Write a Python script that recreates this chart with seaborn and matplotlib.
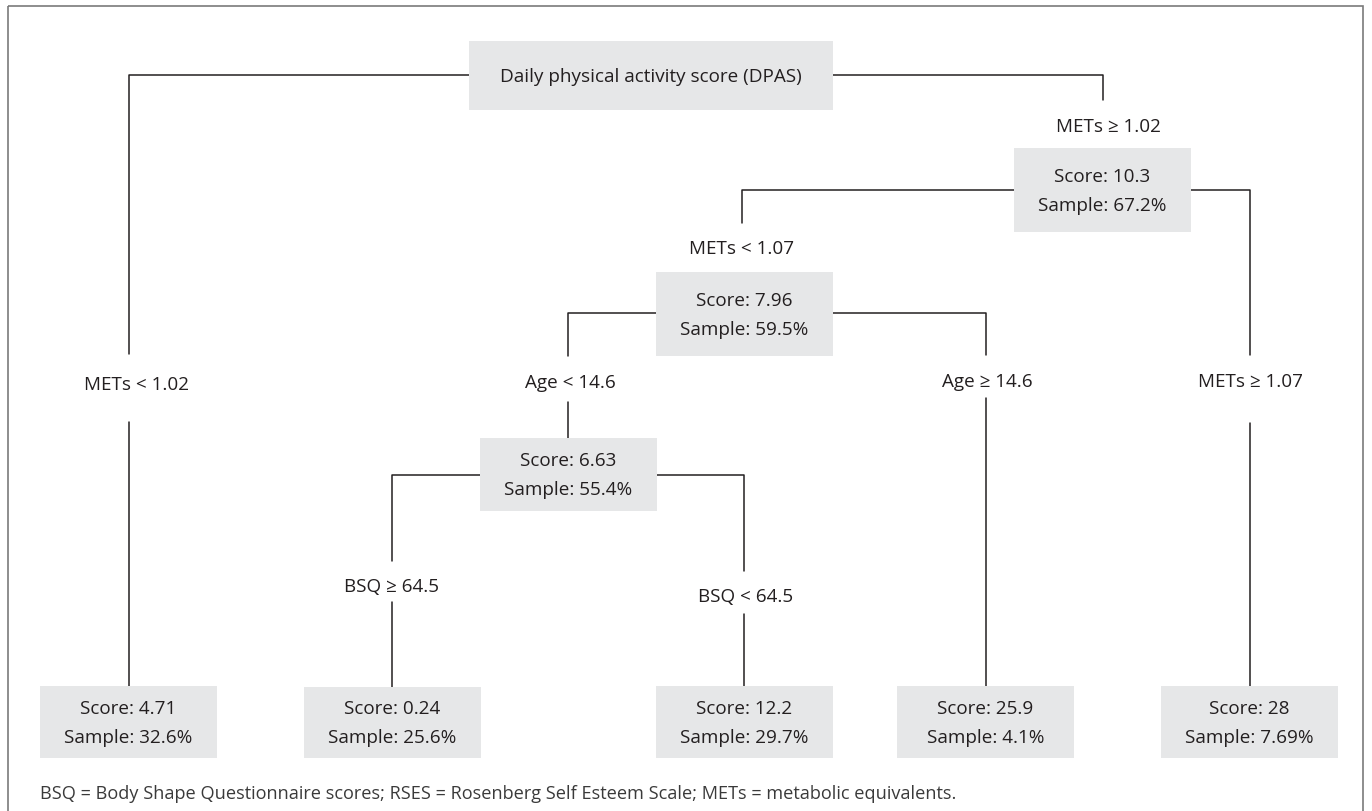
import matplotlib
matplotlib.use("Agg")
import matplotlib.pyplot as plt
from matplotlib.patches import Rectangle
import seaborn as sns
import pandas as pd

# ---------------- data ----------------
node_ids = ["root", "n1", "n2", "n3", "l1", "l2", "l3", "l4", "l5"]
node_scores = [None, "10.3", "7.96", "6.63", "4.71", "0.24", "12.2", "25.9", "28"]
node_samples = [None, "67.2%", "59.5%", "55.4%", "32.6%", "25.6%", "29.7%", "4.1%", "7.69%"]
root_title = "Daily physical activity score (DPAS)"

edge_parent = ["root", "root", "n1", "n1", "n2", "n2", "n3", "n3"]
edge_child = ["l1", "n1", "n2", "l5", "n3", "l4", "l2", "l3"]
edge_labels = ["METs < 1.02", "METs \u2265 1.02", "METs < 1.07", "METs \u2265 1.07",
               "Age < 14.6", "Age \u2265 14.6", "BSQ \u2265 64.5", "BSQ < 64.5"]

footnote = ("BSQ = Body Shape Questionnaire scores; RSES = Rosenberg Self Esteem Scale; "
            "METs = metabolic equivalents.")

# ---------------- layout (pixel space) ----------------
W, H = 1372, 812
box_geom = {  # x0, x1, y0, y1
    "root": (469, 833, 42, 111),
    "n1": (1014, 1191, 149, 233),
    "n2": (656, 833, 273, 357),
    "n3": (480, 657, 439, 512),
    "l1": (40, 217, 687, 759),
    "l2": (304, 481, 688, 759),
    "l3": (656, 833, 687, 759),
    "l4": (897, 1074, 687, 759),
    "l5": (1161, 1338, 687, 759),
}
hline_y = {"root": 76, "n1": 191, "n2": 314, "n3": 476}
# branch x, line end above label, label x, label y, line restart below label (None = no line)
edge_layout = {
    "l1": (129, 355, 137, 385, 423),
    "n1": (1103, 101, 1108, 127, None),
    "n2": (742, 224, 742, 249, None),
    "l5": (1250, 356, 1250, 382, 424),
    "n3": (568, 357, 570, 383, 403),
    "l4": (986, 356, 987, 382, 399),
    "l2": (392, 562, 392, 587, 603),
    "l3": (744, 572, 746, 597, 615),
}

# ---------------- style ----------------
sns.set_theme(style="white")
plt.rcParams["font.family"] = ["Open Sans", "DejaVu Sans"]
INK = "#231F20"
BOX = "#E6E7E8"
FS = 13.6
LW = 1.1

fig = plt.figure(figsize=(W / 100, H / 100), dpi=100)
ax = fig.add_axes([0, 0, 1, 1])
ax.set_xlim(0, W)
ax.set_ylim(H, 0)
ax.axis("off")

# outer frame
ax.add_patch(Rectangle((8, 7), 1355, 815, fill=False, edgecolor="#7a7a7a", lw=1.2,
                       clip_on=True))

# connector segments
segs = []
sid = 0
for p, c in zip(edge_parent, edge_child):
    bx, yend, lx, ly, yrest = edge_layout[c]
    px0, px1, py0, py1 = box_geom[p]
    hy = hline_y[p]
    edge_x = px0 if bx < px0 else px1
    segs += [(sid, edge_x, hy), (sid, bx, hy), (sid, bx, yend)]
    sid += 1
    if yrest is not None:
        segs += [(sid, bx, yrest), (sid, bx, box_geom[c][2])]
        sid += 1
seg_df = pd.DataFrame(segs, columns=["seg", "x", "y"])
sns.lineplot(data=seg_df, x="x", y="y", units="seg", estimator=None, sort=False,
             color=INK, lw=LW, ax=ax, legend=False)
ax.set_xlim(0, W)
ax.set_ylim(H, 0)
ax.axis("off")

# split labels
for c, lab in zip(edge_child, edge_labels):
    bx, yend, lx, ly, yrest = edge_layout[c]
    ax.text(lx, ly, lab, ha="center", va="center", fontsize=FS, color=INK)

# node boxes
for nid, sc, sa in zip(node_ids, node_scores, node_samples):
    x0, x1, y0, y1 = box_geom[nid]
    ax.add_patch(Rectangle((x0, y0), x1 - x0, y1 - y0, facecolor=BOX, edgecolor="none",
                           zorder=3))
    cx = (x0 + x1) / 2
    if sc is None:
        ax.text(cx, hline_y[nid] + 1, root_title, ha="center", va="center",
                fontsize=FS, color=INK, zorder=4)
    else:
        cy = (y0 + y1) / 2
        ax.text(cx, cy - 14, f"Score: {sc}", ha="center", va="center",
                fontsize=FS, color=INK, zorder=4)
        ax.text(cx, cy + 15, f"Sample: {sa}", ha="center", va="center",
                fontsize=FS, color=INK, zorder=4)

ax.text(40, 794, footnote, ha="left", va="center", fontsize=13.1, color="#3a3a3a")

fig.savefig("out.png", dpi=100)
